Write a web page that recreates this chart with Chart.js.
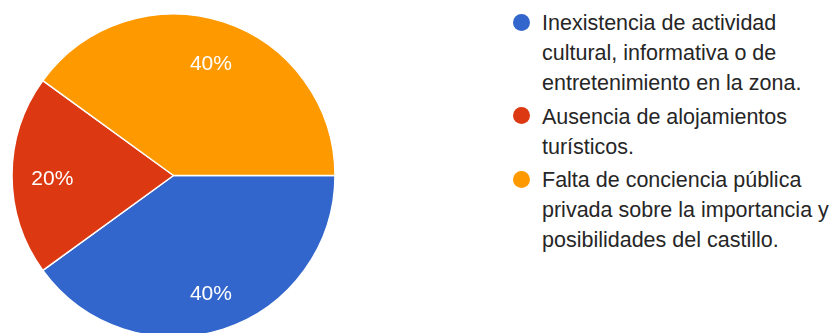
<!DOCTYPE html>
<html lang="es">
<head>
<meta charset="utf-8">
<title>Motivos</title>
<script src="https://cdn.jsdelivr.net/npm/chart.js@4/dist/chart.umd.min.js"></script>
<style>
  html, body { margin: 0; padding: 0; background: #fff; overflow: hidden; width: 833px; height: 333px; }
  #pieBox { position: absolute; left: 0; top: 0; width: 347px; height: 351px; }
  #legend { position: absolute; left: 512px; top: 8px; width: 330px; margin: 0; padding: 0; list-style: none;
            font-family: "Liberation Sans", Arial, sans-serif; font-size: 21.5px; line-height: 30px; color: #262626; }
  #legend li { position: relative; padding-left: 30px; margin-bottom: 3.5px; width: 296px; }
  #legend .dot { position: absolute; left: 1px; top: 5.5px; width: 17px; height: 17px; border-radius: 50%; }
</style>
</head>
<body>
<div id="pieBox"><canvas id="pie"></canvas></div>
<ul id="legend"></ul>
<script>
// Answer options and their share of responses (percent)
const categories = [
  "Inexistencia de actividad cultural, informativa o de entretenimiento en la zona.",
  "Ausencia de alojamientos turísticos.",
  "Falta de conciencia pública privada sobre la importancia y posibilidades del castillo."
];
const shares = [40, 20, 40];
const sliceColors = ["#3366CC", "#DC3912", "#FF9900"];

// Percentage labels inside each slice
const sliceLabels = {
  id: "sliceLabels",
  afterDatasetsDraw(chart) {
    const { ctx } = chart;
    const meta = chart.getDatasetMeta(0);
    const values = chart.data.datasets[0].data;
    const total = values.reduce((a, b) => a + b, 0);
    ctx.save();
    ctx.fillStyle = "#ffffff";
    ctx.font = "21px 'Liberation Sans', Arial, sans-serif";
    ctx.textAlign = "center";
    ctx.textBaseline = "middle";
    meta.data.forEach((arc, i) => {
      const p = arc.getProps(["x", "y", "startAngle", "endAngle", "outerRadius"], true);
      const mid = (p.startAngle + p.endAngle) / 2;
      const r = p.outerRadius * 0.75;
      const text = Math.round(values[i] / total * 100) + "%";
      ctx.fillText(text, p.x + Math.cos(mid) * r, p.y + Math.sin(mid) * r + 4);
    });
    ctx.restore();
  }
};

const chart = new Chart(document.getElementById("pie"), {
  type: "pie",
  data: {
    labels: categories,
    datasets: [{
      data: shares,
      backgroundColor: sliceColors,
      borderColor: "#ffffff",
      borderWidth: 1.5
    }]
  },
  options: {
    responsive: true,
    maintainAspectRatio: false,
    animation: false,
    rotation: 90,
    radius: 161.5,
    layout: { padding: 0 },
    plugins: {
      legend: { display: false },
      tooltip: { enabled: false }
    }
  },
  plugins: [sliceLabels]
});

// Legend built from the chart's own labels and colours
const legendEl = document.getElementById("legend");
chart.data.labels.forEach((label, i) => {
  const li = document.createElement("li");
  const dot = document.createElement("span");
  dot.className = "dot";
  dot.style.background = chart.data.datasets[0].backgroundColor[i];
  li.appendChild(dot);
  li.appendChild(document.createTextNode(label));
  legendEl.appendChild(li);
});
</script>
</body>
</html>
